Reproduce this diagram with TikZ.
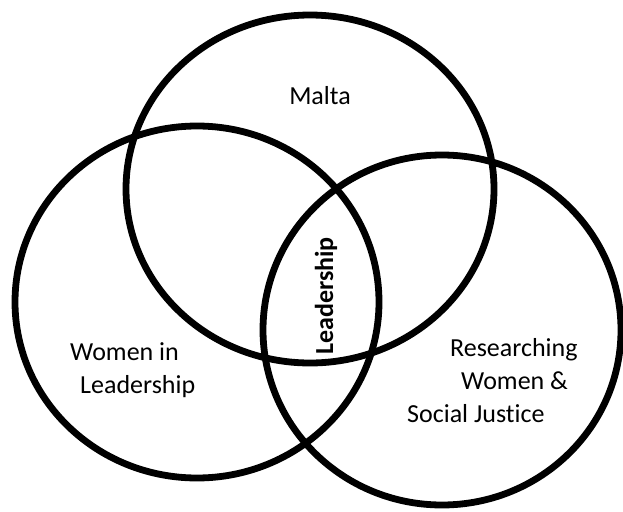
\documentclass[tikz,border=0pt]{standalone}
\usepackage{fontspec}
\setmainfont{Carlito}[Ligatures=CommonOff]
\usepackage{tikz}

\begin{document}
\begin{tikzpicture}[
        x=1pt, y=-1pt,
        set/.style = {
            draw=black,
            line width=6.8pt
        },
        every node/.style = {
            inner sep=0pt,
            font=\fontsize{26}{33}\selectfont
        },
        caption/.style = {
            align=left,
            anchor=west
        }]
        \useasboundingbox (0,0) rectangle (623,511);
        % the three sets
        \draw[set] (197,302) ellipse [x radius=182, y radius=176];
        \draw[set] (310,189) ellipse [x radius=184, y radius=174];
        \draw[set] (442,330) ellipse [x radius=179, y radius=175];
        % labels
        \node[anchor=base] (malta) at (320,104) {Malta};
        \node[anchor=base, rotate=90, font=\fontsize{26}{33}\selectfont\bfseries] (core) at (333,296) {Leadership};
        \node[caption] (women) at (70,370) {Women in\\\hspace*{10pt}Leadership};
        \node[caption] (research) at (407,381) {\hspace*{43pt}Researching\\\hspace*{54pt}Women \&\\Social Justice};
    \end{tikzpicture}
\end{document}
